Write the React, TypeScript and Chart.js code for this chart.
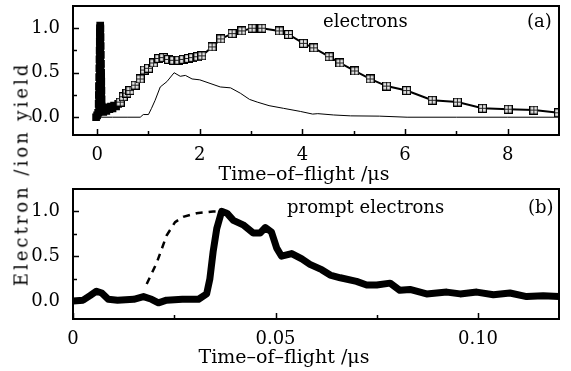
import React, { useEffect, useRef } from 'react';
import { Chart, registerables } from 'chart.js';
Chart.register(...registerables);

const FONT = "'DejaVu Serif', serif";

// ---- Panel (a) data ----
const aMarkX = [-0.02, 0.0, 0.02, 0.03, 0.034, 0.037, 0.04, 0.043, 0.046, 0.049, 0.052, 0.055, 0.058, 0.06,
  0.063, 0.066, 0.069, 0.072, 0.075, 0.078, 0.081, 0.084, 0.087, 0.09, 0.1, 0.12, 0.15, 0.18, 0.21, 0.24, 0.27,
  0.3, 0.33, 0.37, 0.41, 0.45, 0.51, 0.58, 0.64, 0.74, 0.84, 0.92, 1.0, 1.1, 1.2, 1.29, 1.39, 1.49, 1.59, 1.68,
  1.78, 1.86, 1.96, 2.04, 2.24, 2.41, 2.63, 2.82, 3.02, 3.21, 3.55, 3.73, 4.02, 4.22, 4.52, 4.73, 5.02, 5.32,
  5.64, 6.03, 6.53, 7.02, 7.51, 8.01, 8.51, 8.99];
const aMarkY = [0.0, 0.02, 0.05, 0.15, 0.25, 0.35, 0.45, 0.55, 0.65, 0.75, 0.85, 0.95, 1.0, 1.03,
  1.0, 0.9, 0.8, 0.7, 0.6, 0.5, 0.4, 0.3, 0.2, 0.12, 0.1, 0.06, 0.1, 0.07, 0.11, 0.09, 0.12,
  0.1, 0.13, 0.12, 0.15, 0.17, 0.23, 0.27, 0.30, 0.36, 0.43, 0.53, 0.55, 0.61, 0.66, 0.67, 0.65, 0.64, 0.64, 0.65,
  0.66, 0.67, 0.68, 0.69, 0.79, 0.88, 0.94, 0.97, 1.0, 1.0, 0.97, 0.93, 0.83, 0.78, 0.68, 0.61, 0.52, 0.43,
  0.35, 0.30, 0.19, 0.17, 0.10, 0.09, 0.08, 0.05];

const aThinX = [0.0, 0.3, 0.6, 0.84, 0.9, 1.0, 1.06, 1.13, 1.23, 1.36, 1.5, 1.62, 1.72, 1.85, 2.0, 2.2, 2.4, 2.6,
  2.79, 2.97, 3.12, 3.35, 3.63, 3.96, 4.2, 4.3, 4.61, 4.94, 5.5, 6.04, 7.0, 8.0, 9.0];
const aThinY = [0, 0, 0, 0, 0.03, 0.03, 0.1, 0.19, 0.34, 0.40, 0.50, 0.46, 0.47, 0.43, 0.42, 0.38, 0.34, 0.33,
  0.27, 0.2, 0.17, 0.13, 0.10, 0.065, 0.035, 0.04, 0.025, 0.015, 0.012, 0.0, 0.0, 0.0, 0.0];

// early-time (dense) part of the marker series is drawn as solid black
const aDenseLimit = 0.43;

const aXMajor = [0, 2, 4, 6, 8];
const aXLabels = ['0', '2', '4', '6', '8'];
const aXMinor = [1, 3, 5, 7];

// ---- Panel (b) data ----
const bThickX = [0.0, 0.0025, 0.0042, 0.0058, 0.0071, 0.0087, 0.011, 0.015, 0.0174, 0.0194, 0.0211, 0.0231,
  0.027, 0.031, 0.033, 0.0338, 0.0346, 0.0355, 0.0367, 0.038, 0.0396, 0.042, 0.0445, 0.0462, 0.0475, 0.049,
  0.0503, 0.0515, 0.054, 0.0565, 0.0585, 0.0614, 0.0635, 0.066, 0.07, 0.0725, 0.075, 0.0783, 0.0807, 0.0832,
  0.0873, 0.0923, 0.0956, 0.0997, 0.1038, 0.1079, 0.112, 0.1161, 0.12];
const bThickY = [0.0, 0.01, 0.06, 0.11, 0.09, 0.02, 0.01, 0.02, 0.05, 0.02, -0.02, 0.01,
  0.02, 0.02, 0.08, 0.25, 0.55, 0.81, 1.0, 0.98, 0.90, 0.85, 0.76, 0.76, 0.82, 0.77,
  0.59, 0.50, 0.53, 0.47, 0.41, 0.35, 0.29, 0.26, 0.22, 0.18, 0.18, 0.20, 0.12, 0.13,
  0.08, 0.10, 0.08, 0.10, 0.07, 0.09, 0.05, 0.06, 0.05];

const bDashX = [0.0182, 0.0207, 0.0231, 0.0252, 0.0272, 0.0305, 0.0346, 0.0367];
const bDashY = [0.19, 0.43, 0.73, 0.88, 0.94, 0.98, 1.0, 1.0];

const bXMajor = [0, 0.05, 0.1];
const bXLabels = ['0', '0.05', '0.10'];
const bXMinor = [0.025, 0.075];

const yMajor = [0, 0.5, 1.0];
const yLabels = ['0.0', '0.5', '1.0'];
const yMinor = [0.25, 0.75];

const zip = (xs: number[], ys: number[]) => xs.map((x, i) => ({ x, y: ys[i] }));

function makeMarker() {
  const c = document.createElement('canvas');
  c.width = 9; c.height = 9;
  const g = c.getContext('2d')!;
  g.fillStyle = '#e4e4e4';
  g.fillRect(0, 0, 9, 9);
  g.strokeStyle = '#000';
  g.lineWidth = 1.2;
  g.strokeRect(0.6, 0.6, 7.8, 7.8);
  g.strokeStyle = '#222';
  g.lineWidth = 1;
  g.beginPath();
  g.moveTo(4.5, 1); g.lineTo(4.5, 8);
  g.moveTo(1, 4.5); g.lineTo(8, 4.5);
  g.stroke();
  return c;
}

type TextItem = { text: string; x: number; y: number; align?: CanvasTextAlign; size?: number };

function framePlugin(xMajor: number[], xMinor: number[], texts: TextItem[]) {
  return {
    id: 'frameTicks',
    afterDraw(chart: any) {
      const { ctx, chartArea: a, scales } = chart;
      ctx.save();
      ctx.strokeStyle = '#000';
      ctx.lineWidth = 2;
      ctx.strokeRect(a.left, a.top, a.right - a.left, a.bottom - a.top);
      ctx.lineWidth = 1.5;
      ctx.beginPath();
      const tick = (vals: number[], len: number) => {
        for (const v of vals) {
          const px = Math.round(scales.x.getPixelForValue(v)) + 0.5;
          ctx.moveTo(px, a.bottom);
          ctx.lineTo(px, a.bottom - len);
        }
      };
      const ytick = (vals: number[], len: number) => {
        for (const v of vals) {
          const py = Math.round(scales.y.getPixelForValue(v)) + 0.5;
          ctx.moveTo(a.left, py);
          ctx.lineTo(a.left + len, py);
        }
      };
      tick(xMajor, 6); tick(xMinor, 4);
      ytick(yMajor, 6); ytick(yMinor, 4);
      ctx.stroke();
      ctx.fillStyle = '#000';
      ctx.textBaseline = 'alphabetic';
      for (const t of texts) {
        ctx.font = `${t.size || 18}px ${FONT}`;
        ctx.textAlign = t.align || 'left';
        ctx.fillText(t.text, t.x, t.y);
      }
      ctx.restore();
    },
  };
}

function baseOptions(xMin: number, xMax: number, xMajor: number[], xLabels: string[], pad: any, xAxisH: number) {
  return {
    responsive: false,
    animation: false as const,
    devicePixelRatio: 1,
    layout: { padding: pad },
    plugins: { legend: { display: false }, tooltip: { enabled: false } },
    scales: {
      x: {
        type: 'linear' as const,
        min: xMin,
        max: xMax,
        grid: { display: false },
        border: { display: false },
        afterBuildTicks: (s: any) => { s.ticks = xMajor.map((v) => ({ value: v })); },
        afterFit: (s: any) => { s.height = xAxisH; s.paddingLeft = 0; s.paddingRight = 0; },
        ticks: {
          autoSkip: false,
          maxRotation: 0,
          padding: 2,
          color: '#000',
          font: { family: FONT, size: 18 },
          callback: (_v: any, i: number) => xLabels[i],
        },
      },
      y: {
        type: 'linear' as const,
        min: -0.2,
        max: 1.25,
        grid: { display: false },
        border: { display: false },
        afterBuildTicks: (s: any) => { s.ticks = yMajor.map((v) => ({ value: v })); },
        afterFit: (s: any) => { s.width = 73; s.paddingTop = 0; s.paddingBottom = 0; },
        ticks: {
          autoSkip: false,
          padding: 5,
          color: '#000',
          font: { family: FONT, size: 18 },
          callback: (_v: any, i: number) => yLabels[i],
        },
      },
    },
  };
}

export default function App() {
  const refA = useRef<HTMLCanvasElement>(null);
  const refB = useRef<HTMLCanvasElement>(null);

  useEffect(() => {
    document.body.style.margin = '0';
    const marker = makeMarker();
    const chartA = new Chart(refA.current!, {
      type: 'scatter',
      data: {
        datasets: [
          {
            data: zip(aThinX, aThinY),
            showLine: true,
            borderColor: '#000',
            borderWidth: 1,
            pointRadius: 0,
          },
          {
            data: zip(aMarkX, aMarkY),
            showLine: true,
            borderColor: '#000',
            borderWidth: 2,
            segment: {
              borderWidth: (c: any) => (c.p1.parsed.x < 0.1 ? 7 : 2),
            },
            pointStyle: (c: any) => (c.raw && c.raw.x < aDenseLimit ? 'rect' : (marker as any)),
            pointBackgroundColor: '#000',
            pointBorderColor: '#000',
            pointRadius: 4,
          },
        ],
      },
      options: baseOptions(-0.47, 9.0, aXMajor, aXLabels, { left: 0, right: 12, top: 5, bottom: 0 }, 50) as any,
      plugins: [framePlugin(aXMajor, aXMinor, [
        { text: 'electrons', x: 323, y: 27 },
        { text: '(a)', x: 527, y: 27 },
        { text: 'Time\u2013of\u2013flight /\u03bcs', x: 304, y: 180, align: 'center', size: 19 },
      ])],
    });
    const chartB = new Chart(refB.current!, {
      type: 'scatter',
      data: {
        datasets: [
          {
            data: zip(bThickX, bThickY),
            showLine: true,
            borderColor: '#000',
            borderWidth: 7,
            borderJoinStyle: 'round',
            borderCapStyle: 'round',
            pointRadius: 0,
          },
          {
            data: zip(bDashX, bDashY),
            showLine: true,
            borderColor: '#000',
            borderWidth: 2.5,
            borderDash: [7, 6],
            pointRadius: 0,
          },
        ],
      },
      options: baseOptions(0, 0.12, bXMajor, bXLabels, { left: 0, right: 12, top: 4, bottom: 0 }, 52) as any,
      plugins: [framePlugin(bXMajor, bXMinor, [
        { text: 'prompt electrons', x: 287, y: 28 },
        { text: '(b)', x: 528, y: 28 },
        { text: 'Time\u2013of\u2013flight /\u03bcs', x: 284, y: 178, align: 'center', size: 19 },
      ])],
    });
    return () => { chartA.destroy(); chartB.destroy(); };
  }, []);

  return (
    <div style={{ position: 'absolute', left: 0, top: 0, width: 571, height: 371, background: '#fff' }}>
      <canvas ref={refA} width={571} height={185} style={{ position: 'absolute', left: 0, top: 0 }} />
      <canvas ref={refB} width={571} height={186} style={{ position: 'absolute', left: 0, top: 185 }} />
      <div
        style={{
          position: 'absolute',
          left: 21,
          top: 174,
          transform: 'translate(-50%, -50%) rotate(-90deg)',
          whiteSpace: 'nowrap',
          fontFamily: FONT,
          fontSize: 18,
          letterSpacing: 3,
          color: '#000',
        }}
      >
        Electron /ion yield
      </div>
    </div>
  );
}
